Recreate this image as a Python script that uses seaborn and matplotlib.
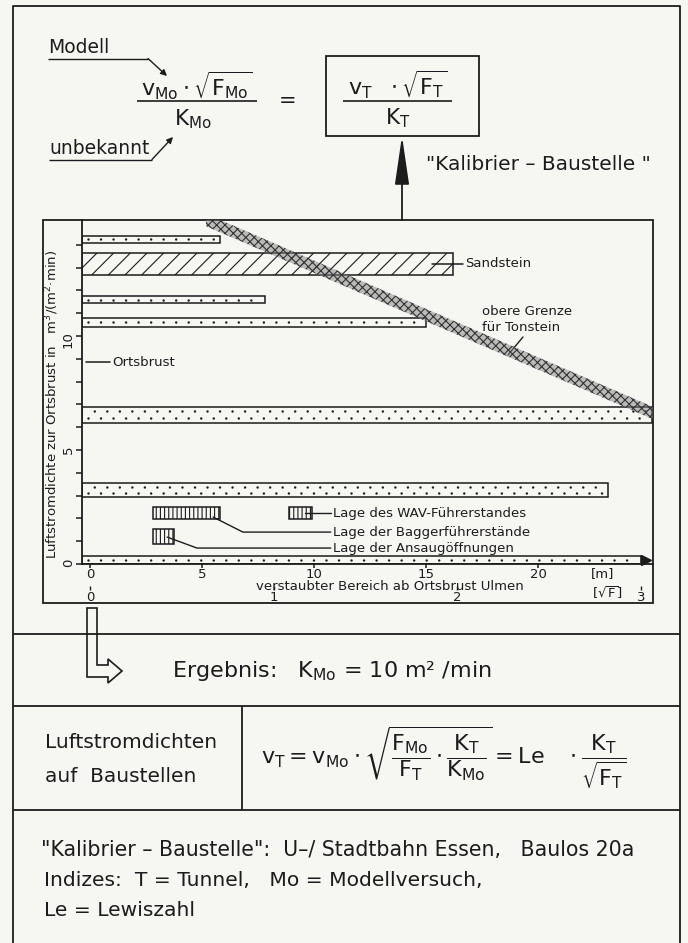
import numpy as np
import matplotlib
matplotlib.use("Agg")
import matplotlib.pyplot as plt
from matplotlib.patches import Rectangle, Polygon
import seaborn as sns

# -----------------------------
# Data
# -----------------------------
# dotted bars: lower edge, upper edge [m3/(m2 min)], reach [m]
dot_low = [14.1, 11.45, 10.4, 6.2, 2.94, 0.0]
dot_high = [14.4, 11.75, 10.8, 6.9, 3.55, 0.35]
dot_reach = [5.8, 7.8, 15.0, 25.1, 23.1, 24.6]

# Sandstein bar
sand_low, sand_high, sand_reach = 12.68, 13.64, 16.2

# upper limit for Tonstein (band centre line)
band_x = [5.18, 25.13]
band_y = [15.09, 6.62]
band_half = 0.27

# machine positions (hatched boxes)
pos_x0 = [8.9, 2.8, 2.8]
pos_x1 = [9.9, 5.8, 3.75]
pos_y0 = [1.97, 1.97, 0.88]
pos_y1 = [2.5, 2.5, 1.53]
pos_labels = ["Lage des WAV-Führerstandes",
              "Lage der Baggerführerstände",
              "Lage der Ansaugöffnungen"]
label_y = [2.23, 1.40, 0.70]

# sqrt(F) scale: metres per unit
m_per_sqrtF = 8.2

x_min, x_max = -0.35, 25.13
y_min, y_max = 0.0, 15.09

# -----------------------------
# Style
# -----------------------------
sns.set_theme(style="white")
plt.rcParams["font.family"] = ["DejaVu Sans"]
plt.rcParams["mathtext.fontset"] = "dejavusans"
plt.rcParams["mathtext.default"] = "regular"
plt.rcParams["hatch.linewidth"] = 0.8

ink = "#1c1c1c"
paper = "#f6f6f3"

fig = plt.figure(figsize=(6.88, 9.43), dpi=100, facecolor=paper)

# overlay in pixel coordinates for frames and formulas
ov = fig.add_axes([0, 0, 1, 1])
ov.set_xlim(0, 688)
ov.set_ylim(943, 0)
ov.axis("off")


def seg(x, y, lw=1.3):
    ov.plot(x, y, color=ink, lw=lw, solid_capstyle="butt")


# frames
seg([13, 13, 680, 680], [943, 6, 6, 943])
ov.add_patch(Rectangle((43, 220), 610, 383, fill=False, ec=ink, lw=1.3))
for yy in (634, 706, 810):
    seg([13, 680], [yy, yy])
seg([242, 242], [706, 810])

# top formula
ov.text(48, 57, "Modell", fontsize=13.5, va="bottom", color=ink)
seg([48, 148], [58.5, 58.5], lw=1)
ov.annotate("", xy=(167, 76), xytext=(148, 58.5),
            arrowprops=dict(arrowstyle="-|>", color=ink, lw=1, mutation_scale=9,
                            shrinkA=0, shrinkB=0))
ov.text(49, 158, "unbekannt", fontsize=13.5, va="bottom", color=ink)
seg([49, 152], [159.5, 159.5], lw=1)
ov.annotate("", xy=(173, 137), xytext=(152, 159.5),
            arrowprops=dict(arrowstyle="-|>", color=ink, lw=1, mutation_scale=9,
                            shrinkA=0, shrinkB=0))

ov.text(197, 86, r"$v_{Mo}\cdot\sqrt{F_{Mo}}$", fontsize=16, ha="center", va="center", color=ink)
seg([137, 257], [101, 101], lw=1.2)
ov.text(193, 119, r"$K_{Mo}$", fontsize=15.5, ha="center", va="center", color=ink)
ov.text(288, 101, "=", fontsize=15, ha="center", va="center", color=ink)

ov.add_patch(Rectangle((326, 56), 153, 80, fill=False, ec=ink, lw=1.3))
ov.text(398, 85, r"$v_T\ \ \cdot\sqrt{F_T}$", fontsize=16, ha="center", va="center", color=ink)
seg([343, 452], [101, 101], lw=1.2)
ov.text(398, 118, r"$K_T$", fontsize=15.5, ha="center", va="center", color=ink)

ov.annotate("", xy=(402, 136), xytext=(402, 220),
            arrowprops=dict(arrowstyle="-|>,head_length=1.5,head_width=0.22", color=ink,
                            lw=1.3, mutation_scale=20, shrinkA=0, shrinkB=0))
ov.text(426, 165, '"Kalibrier – Baustelle "', fontsize=14.5, va="center", color=ink)

# hollow arrow to result
ov.add_patch(Polygon([(87, 608), (87, 677), (108, 677), (108, 683), (122, 671),
                      (108, 659), (108, 665), (97, 665), (97, 608)],
                     closed=True, fc="none", ec=ink, lw=1.2))
ov.text(172, 671, r"Ergebnis:   $K_{Mo}$ = 10 m² /min", fontsize=16, va="center", color=ink)

ov.text(45, 742, "Luftstromdichten", fontsize=14.5, va="center", color=ink)
ov.text(45, 776, "auf  Baustellen", fontsize=14.5, va="center", color=ink)
ov.text(444, 758,
        r"$v_T = v_{Mo}\cdot\sqrt{\dfrac{F_{Mo}}{F_T}\cdot\dfrac{K_T}{K_{Mo}}} = Le\ \ \ \cdot\dfrac{K_T}{\sqrt{F_T}}$",
        fontsize=16, ha="center", va="center", color=ink)

ov.text(41, 850, '"Kalibrier – Baustelle":  U–/ Stadtbahn Essen,   Baulos 20a',
        fontsize=14.8, va="center", color=ink)
ov.text(44, 881, "Indizes:  T = Tunnel,   Mo = Modellversuch,", fontsize=14.6,
        va="center", color=ink)
ov.text(44, 911, "Le = Lewiszahl", fontsize=14.6, va="center", color=ink)

# -----------------------------
# Chart
# -----------------------------
ax = fig.add_axes([82 / 688, 1 - 564 / 943, 571 / 688, 344 / 943])
ax.set_facecolor("none")
ax.set_xlim(x_min, x_max)
ax.set_ylim(y_min, y_max)
for side in ("top", "right"):
    ax.spines[side].set_visible(False)
for side in ("left", "bottom"):
    ax.spines[side].set_color(ink)
    ax.spines[side].set_linewidth(1.3)

# dotted bars
for lo, hi, reach in zip(dot_low, dot_high, dot_reach):
    ax.barh(y=(lo + hi) / 2, width=reach - x_min, left=x_min, height=hi - lo,
            facecolor="none", edgecolor=ink, lw=1.1, zorder=3)
    if hi - lo > 0.45:
        rows = [(lo + (hi - lo) * 0.32, 0.0), (lo + (hi - lo) * 0.7, 2.5)]
    else:
        rows = [((lo + hi) / 2, 0.0)]
    for yy, off in rows:
        ax.plot([x_min + 0.25, reach - 0.2], [yy, yy], color=ink, lw=1.8,
                ls=(off, (0.01, 5.0)), dash_capstyle="round", zorder=3)

# arrow on the bottom bar
ax.plot(dot_reach[-1] + 0.22, (dot_low[-1] + dot_high[-1]) / 2, marker=">", ms=7,
        color=ink, zorder=4, clip_on=False)

# Sandstein
ax.barh(y=(sand_low + sand_high) / 2, width=sand_reach - x_min, left=x_min,
        height=sand_high - sand_low, facecolor="none", edgecolor=ink, lw=1.1,
        hatch="//", zorder=3)
sand_mid = (sand_low + sand_high) / 2
ax.plot([sand_reach - 0.95, sand_reach + 0.45], [sand_mid, sand_mid], color=ink, lw=1.1)
ax.text(sand_reach + 0.55, sand_mid, "Sandstein", fontsize=9.5, va="center", color=ink)

# Tonstein band
bx = np.array(band_x)
by = np.array(band_y)
ax.fill_between(bx, by - band_half, by + band_half, facecolor=(0.5, 0.5, 0.5, 0.5),
                edgecolor="#333333", hatch="xxxx", lw=0, zorder=4)
ax.text(17.5, 10.72, "obere Grenze\nfür Tonstein", fontsize=9.5, va="center",
        linespacing=1.25, color=ink)
ax.plot([19.33, 18.66], [9.96, 9.17], color=ink, lw=1.0)

# Ortsbrust marker
ax.plot([-0.18, 0.9], [8.86, 8.86], color=ink, lw=1.1)
ax.text(0.98, 8.86, "Ortsbrust", fontsize=9.5, va="center", color=ink)

# positions (vertical hatch)
for x0, x1, y0, y1 in zip(pos_x0, pos_x1, pos_y0, pos_y1):
    ax.add_patch(Rectangle((x0, y0), x1 - x0, y1 - y0, facecolor="none",
                           edgecolor=ink, lw=1.1, hatch="||||", zorder=3))
label_x = 10.85
ax.plot([pos_x1[0] - 0.3, label_x - 0.1], [label_y[0], label_y[0]], color=ink, lw=1.0)
ax.plot([pos_x1[1] - 0.3, 6.83, label_x - 0.1], [2.06, label_y[1], label_y[1]], color=ink, lw=1.0)
ax.plot([pos_x1[2] - 0.3, 4.78, label_x - 0.1], [1.18, label_y[2], label_y[2]], color=ink, lw=1.0)
for txt, yy in zip(pos_labels, label_y):
    ax.text(label_x, yy, txt, fontsize=9.5, va="center", color=ink)

# ticks
ax.set_yticks(range(0, 15))
ax.set_yticklabels(["0" if v == 0 else "5" if v == 5 else "10" if v == 10 else ""
                    for v in range(0, 15)])
ax.set_xticks([0, 5, 10, 15, 20])
ax.tick_params(axis="y", direction="out", length=4, width=1.1, labelsize=9.5, pad=1,
               labelrotation=90, colors=ink, left=True)
ax.tick_params(axis="x", direction="out", length=3, width=1.1, labelsize=9.5, pad=0,
               colors=ink, bottom=True)

ax.set_ylabel(r"Luftstromdichte zur Ortsbrust in   m$^3$/(m$^2$·min)", fontsize=9.5, color=ink)
ax.yaxis.set_label_coords(-0.036, 0.465)
ax.set_xlabel("verstaubter Bereich ab Ortsbrust Ulmen", fontsize=9.5, color=ink)
ax.xaxis.set_label_coords(0.539, -0.046)

ax.text(22.9, -0.028, "[m]", transform=ax.get_xaxis_transform(), fontsize=9.5,
        ha="center", va="center", color=ink)
ax.text(23.1, -0.084, r"[$\sqrt{F}$]", transform=ax.get_xaxis_transform(), fontsize=9.5,
        ha="center", va="center", color=ink)

sec = ax.secondary_xaxis(-0.0757, functions=(lambda x: x / m_per_sqrtF,
                                             lambda s: s * m_per_sqrtF))
sec.set_xticks([0, 1, 2, 3])
sec.spines["bottom"].set_visible(False)
sec.tick_params(direction="in", length=3, width=1.0, pad=1, labelsize=9.5, colors=ink)

fig.savefig("out.png", dpi=100, facecolor=paper)
